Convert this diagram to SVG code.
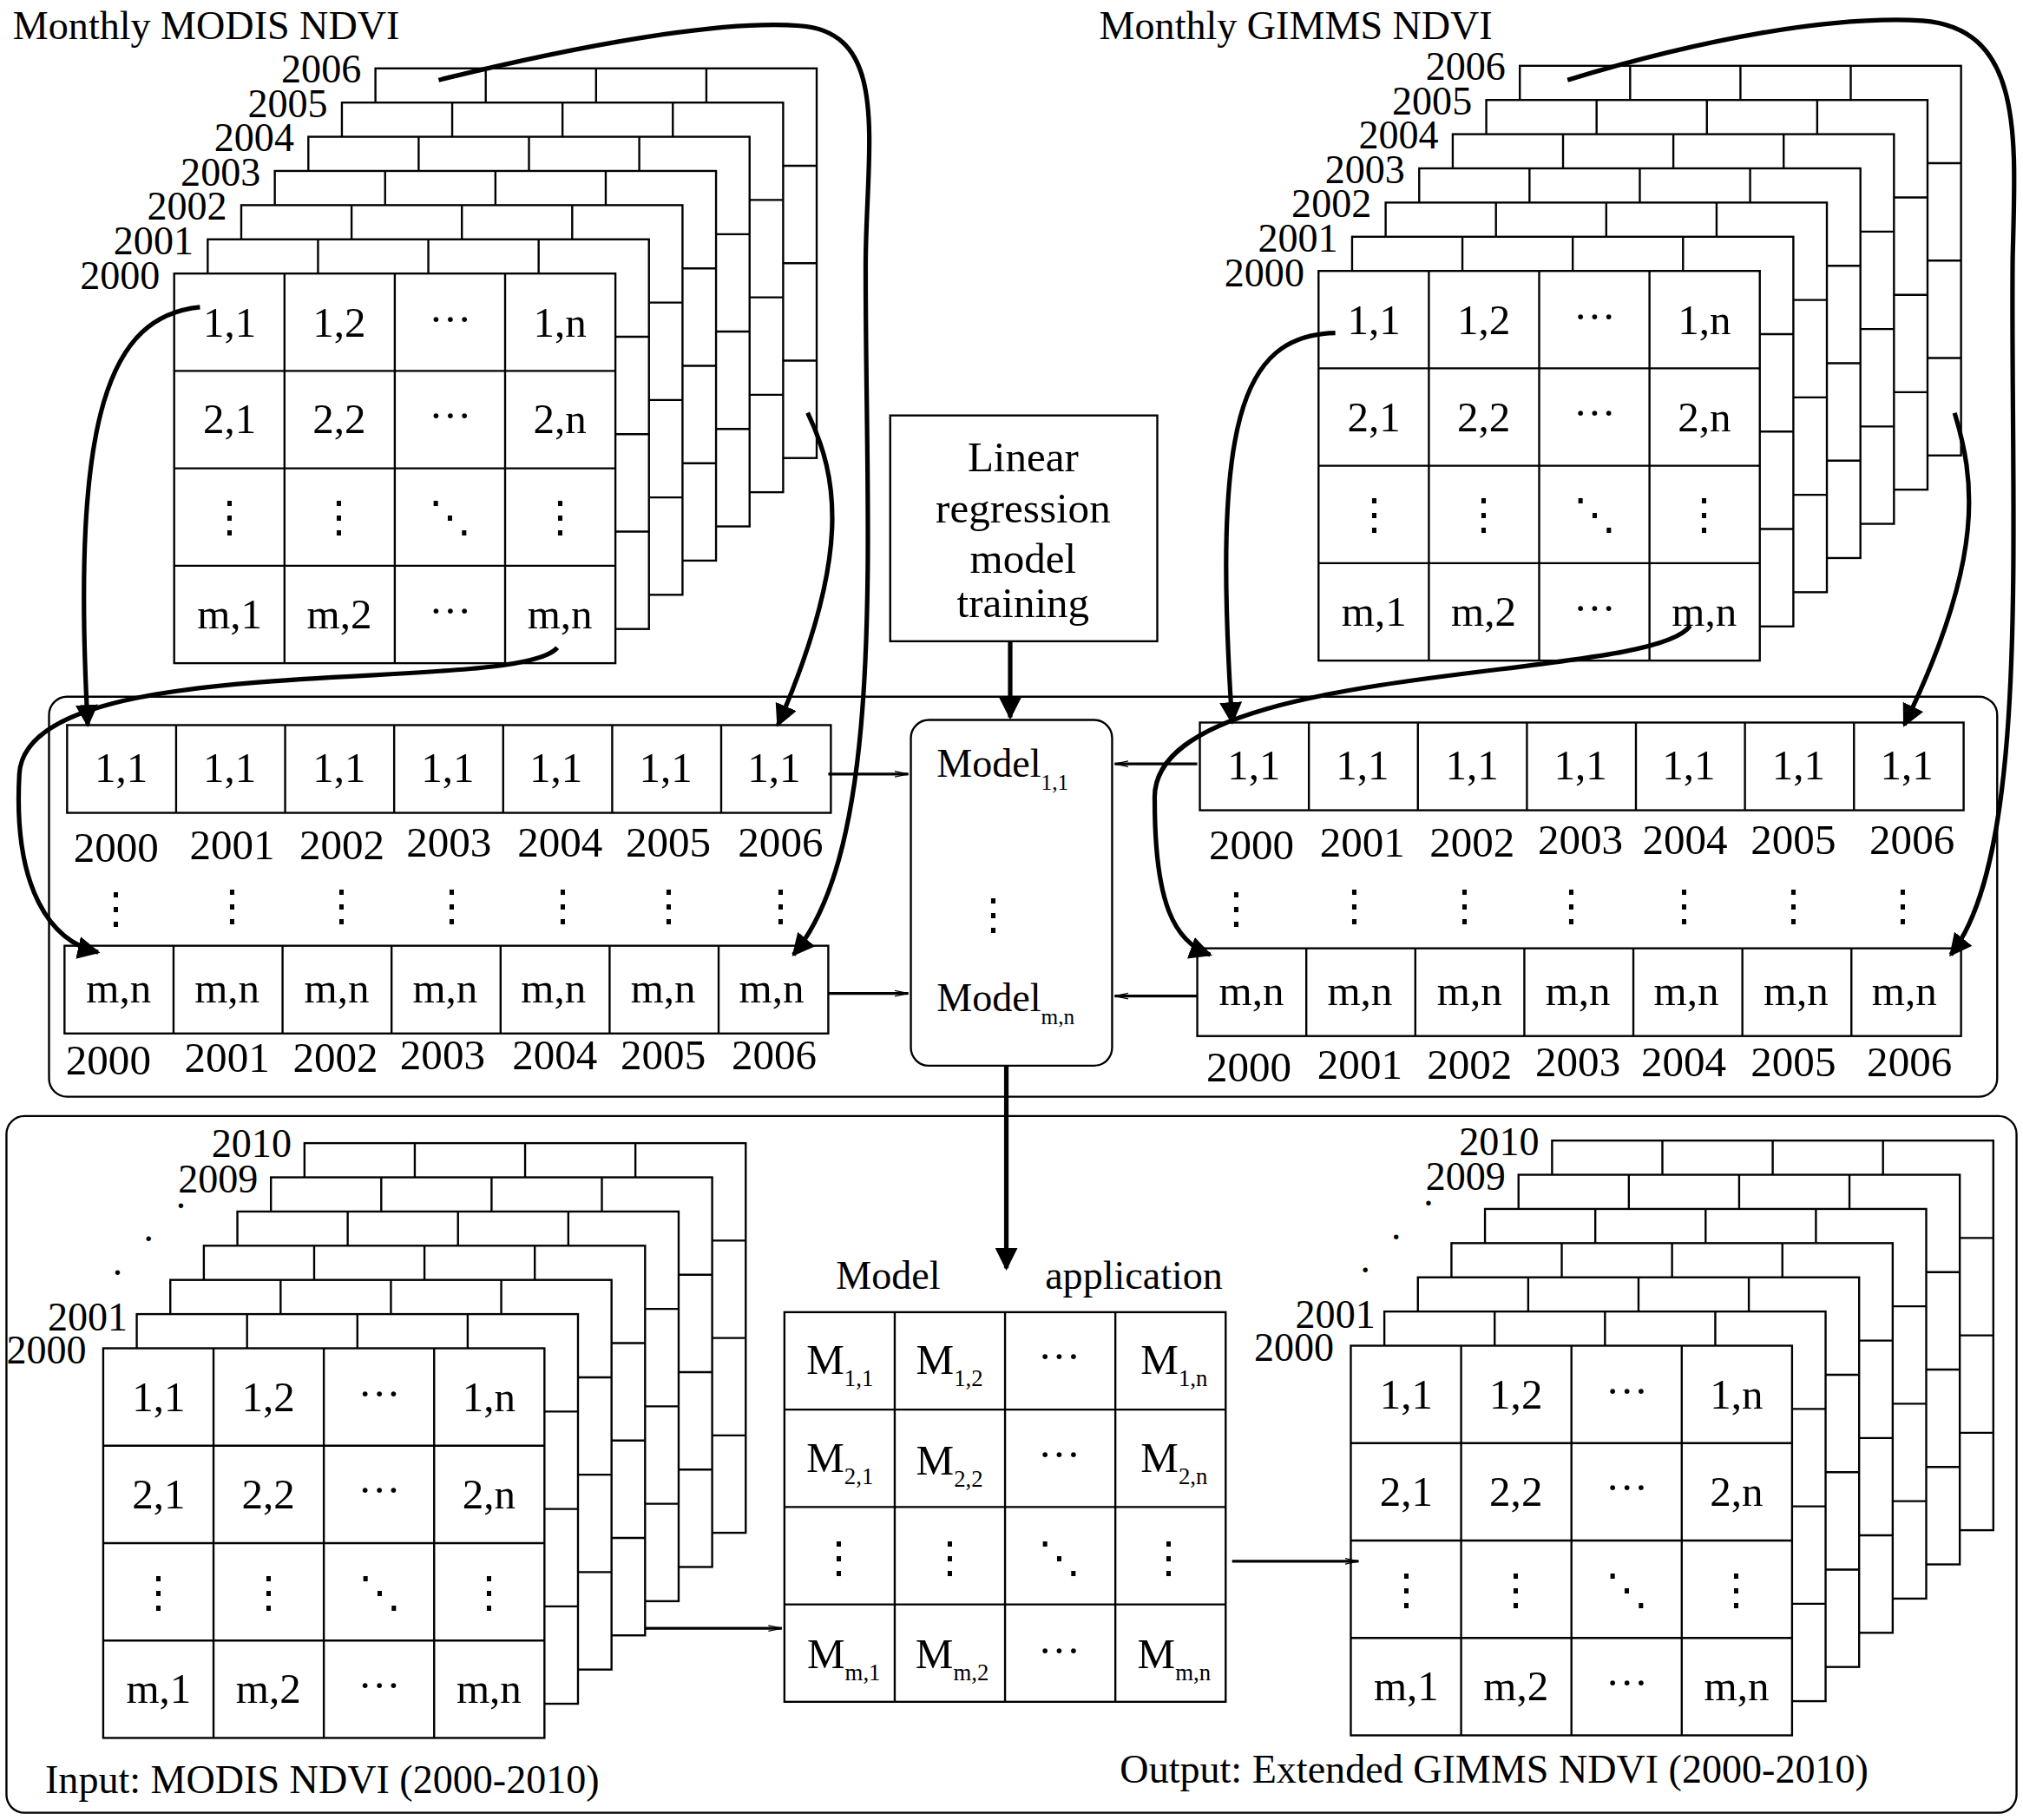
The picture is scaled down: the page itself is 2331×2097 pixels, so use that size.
<svg xmlns="http://www.w3.org/2000/svg" xmlns:xlink="http://www.w3.org/1999/xlink" width="2331" height="2097" viewBox="0 0 2331 2097">
<style>
.l{fill:none;stroke:#000;stroke-width:1.6}
.t{font-family:"Liberation Serif",serif;font-size:33px;fill:#000;text-anchor:middle}
.y{font-family:"Liberation Serif",serif;font-size:31px;fill:#000}
.c{fill:none;stroke:#000;stroke-width:3.5}
.a{fill:none;stroke:#000;stroke-width:2.2}
</style>
<defs>
<g id="grid"><rect x="0" y="0" width="342" height="302" fill="#fff" stroke="#000" stroke-width="1.6"/>
<path class="l" d="M85.5,0V302M171,0V302M256.5,0V302M0,75.5H342M0,151H342M0,226.5H342"/></g>
<g id="stack">
<use xlink:href="#grid" x="156" y="-159"/><use xlink:href="#grid" x="130" y="-132.5"/><use xlink:href="#grid" x="104" y="-106"/>
<use xlink:href="#grid" x="78" y="-79.5"/><use xlink:href="#grid" x="52" y="-53"/><use xlink:href="#grid" x="26" y="-26.5"/><use xlink:href="#grid" x="0" y="0"/>
</g>
<g id="labels" class="t">
<text x="43" y="49">1,1</text><text x="128" y="49">1,2</text><text x="214" y="46">···</text><text x="299" y="49">1,n</text>
<text x="43" y="124">2,1</text><text x="128" y="124">2,2</text><text x="214" y="121">···</text><text x="299" y="124">2,n</text>
<text x="43" y="200">⋮</text><text x="128" y="200">⋮</text><text x="214" y="200">⋱</text><text x="299" y="200">⋮</text>
<text x="43" y="275">m,1</text><text x="128" y="275">m,2</text><text x="214" y="272">···</text><text x="299" y="275">m,n</text>
</g>
<g id="row"><rect x="0" y="0" width="592" height="68" fill="#fff" stroke="#000" stroke-width="1.6"/>
<path class="l" d="M84.5,0V68M169,0V68M253.5,0V68M338,0V68M422.5,0V68M507,0V68"/></g>
<marker id="ah" viewBox="0 0 10 10" refX="9" refY="5" markerWidth="5" markerHeight="5" orient="auto"><path d="M0,0L10,5L0,10z" fill="#000"/></marker>
<marker id="oa" viewBox="0 0 20 10" refX="19" refY="5" markerWidth="11" markerHeight="6" orient="auto" markerUnits="userSpaceOnUse"><path d="M0,1L19,5L0,9" fill="none" stroke="#000" stroke-width="1.5"/></marker>
</defs>
<rect width="2331" height="2097" fill="#fff"/>
<g transform="scale(1.4866)">
<g id="titles"><text class="y" x="10" y="30">Monthly MODIS NDVI</text><text class="y" x="852" y="30">Monthly GIMMS NDVI</text></g>

<g id="stackTL" transform="translate(135,212)"><use xlink:href="#stack"/><use xlink:href="#labels"/>
<g class="y"><text x="-73" y="12">2000</text><text x="-47" y="-15">2001</text><text x="-21" y="-42">2002</text><text x="5" y="-68">2003</text><text x="31" y="-95">2004</text><text x="57" y="-121">2005</text><text x="83" y="-148">2006</text></g></g>

<g id="stackTR" transform="translate(1022,210)"><use xlink:href="#stack"/><use xlink:href="#labels"/>
<g class="y"><text x="-73" y="12">2000</text><text x="-47" y="-15">2001</text><text x="-21" y="-42">2002</text><text x="5" y="-68">2003</text><text x="31" y="-95">2004</text><text x="57" y="-121">2005</text><text x="83" y="-148">2006</text></g></g>

<g id="training"><rect x="690" y="322" width="207" height="175" fill="#fff" stroke="#000" stroke-width="1.6"/>
<g class="t"><text x="793" y="365">Linear</text><text x="793" y="405">regression</text><text x="793" y="444">model</text><text x="793" y="478">training</text></g></g>

<g id="trainPanel"><rect x="38" y="540" width="1510" height="310" rx="14" fill="none" stroke="#000" stroke-width="1.6"/></g>

<g id="rowsL">
<use xlink:href="#row" x="52" y="562"/><use xlink:href="#row" x="50" y="733"/>
<g class="t"><text x="94" y="606">1,1</text><text x="178" y="606">1,1</text><text x="263" y="606">1,1</text><text x="347" y="606">1,1</text><text x="431" y="606">1,1</text><text x="516" y="606">1,1</text><text x="600" y="606">1,1</text>
<text x="92" y="777">m,n</text><text x="176" y="777">m,n</text><text x="261" y="777">m,n</text><text x="345" y="777">m,n</text><text x="429" y="777">m,n</text><text x="514" y="777">m,n</text><text x="598" y="777">m,n</text>
<text x="90" y="668">2000</text><text x="180" y="666">2001</text><text x="265" y="666">2002</text><text x="348" y="664">2003</text><text x="434" y="664">2004</text><text x="518" y="664">2005</text><text x="605" y="664">2006</text>
<text x="84" y="833">2000</text><text x="176" y="831">2001</text><text x="260" y="831">2002</text><text x="343" y="829">2003</text><text x="430" y="829">2004</text><text x="514" y="829">2005</text><text x="600" y="829">2006</text>
<text x="90" y="715">⋮</text><text x="180" y="713">⋮</text><text x="265" y="713">⋮</text><text x="350" y="713">⋮</text><text x="436" y="713">⋮</text><text x="518" y="713">⋮</text><text x="605" y="713">⋮</text></g></g>

<g id="rowsR">
<use xlink:href="#row" x="930" y="560"/><use xlink:href="#row" x="928" y="735"/>
<g class="t"><text x="972" y="604">1,1</text><text x="1056" y="604">1,1</text><text x="1141" y="604">1,1</text><text x="1225" y="604">1,1</text><text x="1309" y="604">1,1</text><text x="1394" y="604">1,1</text><text x="1478" y="604">1,1</text>
<text x="970" y="779">m,n</text><text x="1054" y="779">m,n</text><text x="1139" y="779">m,n</text><text x="1223" y="779">m,n</text><text x="1307" y="779">m,n</text><text x="1392" y="779">m,n</text><text x="1476" y="779">m,n</text>
<text x="970" y="666">2000</text><text x="1056" y="664">2001</text><text x="1141" y="664">2002</text><text x="1225" y="662">2003</text><text x="1306" y="662">2004</text><text x="1390" y="662">2005</text><text x="1482" y="662">2006</text>
<text x="968" y="838">2000</text><text x="1054" y="836">2001</text><text x="1139" y="836">2002</text><text x="1223" y="834">2003</text><text x="1305" y="834">2004</text><text x="1390" y="834">2005</text><text x="1480" y="834">2006</text>
<text x="958" y="715">⋮</text><text x="1050" y="713">⋮</text><text x="1135" y="713">⋮</text><text x="1218" y="713">⋮</text><text x="1305" y="713">⋮</text><text x="1390" y="713">⋮</text><text x="1475" y="713">⋮</text></g></g>

<g id="models"><rect x="706" y="558" width="156" height="268" rx="14" fill="#fff" stroke="#000" stroke-width="1.6"/>
<text class="y" x="726" y="602">Model<tspan font-size="17" dy="10">1,1</tspan></text>
<text class="t" x="770" y="720">⋮</text>
<text class="y" x="726" y="784">Model<tspan font-size="17" dy="10">m,n</tspan></text></g>

<g id="applyPanel"><rect x="5" y="865" width="1558" height="540" rx="14" fill="none" stroke="#000" stroke-width="1.6"/></g>

<g id="stackBL" transform="translate(80,1045)"><use xlink:href="#stack"/><use xlink:href="#labels"/>
<g class="y"><text x="-75" y="12">2000</text><text x="-43" y="-14">2001</text><text x="58" y="-121">2009</text><text x="84" y="-148">2010</text>
<text x="6" y="-48">·</text><text x="30" y="-74">·</text><text x="55" y="-100">·</text></g></g>

<g id="stackBR" transform="translate(1047,1043)"><use xlink:href="#stack"/><use xlink:href="#labels"/>
<g class="y"><text x="-75" y="12">2000</text><text x="-43" y="-14">2001</text><text x="58" y="-121">2009</text><text x="84" y="-148">2010</text>
<text x="6" y="-48">·</text><text x="30" y="-74">·</text><text x="55" y="-100">·</text></g></g>

<g id="mgrid"><g transform="translate(608,1017)"><use xlink:href="#grid"/></g>
<g class="t"><text x="651" y="1065">M<tspan font-size="18" dy="9">1,1</tspan></text><text x="736" y="1065">M<tspan font-size="18" dy="9">1,2</tspan></text><text x="821" y="1062">···</text><text x="910" y="1065">M<tspan font-size="18" dy="9">1,n</tspan></text>
<text x="651" y="1141">M<tspan font-size="18" dy="9">2,1</tspan></text><text x="736" y="1143">M<tspan font-size="18" dy="9">2,2</tspan></text><text x="821" y="1138">···</text><text x="910" y="1141">M<tspan font-size="18" dy="9">2,n</tspan></text>
<text x="650" y="1218">⋮</text><text x="736" y="1218">⋮</text><text x="821" y="1218">⋱</text><text x="906" y="1218">⋮</text>
<text x="654" y="1293">M<tspan font-size="18" dy="9">m,1</tspan></text><text x="738" y="1293">M<tspan font-size="18" dy="9">m,2</tspan></text><text x="821" y="1290">···</text><text x="910" y="1293">M<tspan font-size="18" dy="9">m,n</tspan></text></g>
<text class="y" x="648" y="999">Model</text><text class="y" x="810" y="999">application</text></g>

<g id="captions"><text class="y" x="35" y="1390">Input: MODIS NDVI (2000-2010)</text><text class="y" x="868" y="1382">Output: Extended GIMMS NDVI (2000-2010)</text></g>

<g id="connectors">
<path class="c" d="M783,497V556" marker-end="url(#ah)"/>
<path class="c" d="M780,826V983" marker-end="url(#ah)"/>
<path class="a" d="M642,600H704" marker-end="url(#oa)"/>
<path class="a" d="M642,770H704" marker-end="url(#oa)"/>
<path class="a" d="M928,592H864" marker-end="url(#oa)"/>
<path class="a" d="M928,772H864" marker-end="url(#oa)"/>
<path class="a" d="M500,1262H606" marker-end="url(#oa)"/>
<path class="a" d="M955,1210H1053" marker-end="url(#oa)"/>
<path class="c" d="M155,238C85,245 55,320 68,562" marker-end="url(#ah)"/>
<path class="c" d="M432,502C400,540 20,500 15,600C10,690 40,730 76,738" marker-end="url(#ah)"/>
<path class="c" d="M340,62C450,35 560,15 620,20C690,25 672,110 671,200C670,400 690,650 615,740" marker-end="url(#ah)"/>
<path class="c" d="M626,320C650,370 660,430 603,562" marker-end="url(#ah)"/>
<path class="c" d="M1035,258C960,260 940,330 955,560" marker-end="url(#ah)"/>
<path class="c" d="M1310,485C1280,530 890,510 895,620C895,700 910,730 938,740" marker-end="url(#ah)"/>
<path class="c" d="M1215,62C1320,30 1420,12 1490,16C1570,22 1562,110 1560,200C1558,400 1575,660 1512,740" marker-end="url(#ah)"/>
<path class="c" d="M1515,320C1530,370 1540,430 1476,562" marker-end="url(#ah)"/>
</g>
</g>
</svg>
